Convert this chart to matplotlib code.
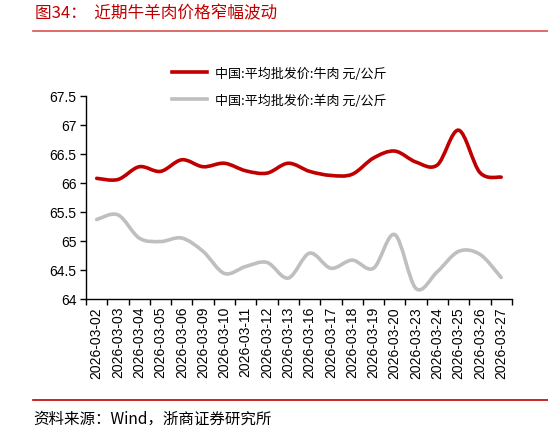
import matplotlib.pyplot as plt
from matplotlib.path import Path
from matplotlib.patches import PathPatch
from matplotlib.lines import Line2D
import numpy as np

plt.rcParams['font.family'] = ['Liberation Sans', 'Noto Sans CJK SC', 'DejaVu Sans']

# data
dates = ['2026-03-02', '2026-03-03', '2026-03-04', '2026-03-05', '2026-03-06',
         '2026-03-09', '2026-03-10', '2026-03-11', '2026-03-12', '2026-03-13',
         '2026-03-16', '2026-03-17', '2026-03-18', '2026-03-19', '2026-03-20',
         '2026-03-23', '2026-03-24', '2026-03-25', '2026-03-26', '2026-03-27']
beef = [66.08, 66.06, 66.28, 66.20, 66.40, 66.28, 66.34, 66.21, 66.17, 66.34,
        66.20, 66.13, 66.15, 66.43, 66.55, 66.36, 66.31, 66.91, 66.18, 66.10]
mutton = [65.37, 65.45, 65.05, 64.99, 65.05, 64.82, 64.44, 64.56, 64.63, 64.36,
          64.79, 64.53, 64.67, 64.53, 65.11, 64.18, 64.47, 64.82, 64.77, 64.37]
beef_label = '中国:平均批发价:牛肉 元/公斤'
mutton_label = '中国:平均批发价:羊肉 元/公斤'

RED = '#c00000'
GREY = '#bfbfbf'


def smooth_path(xs, ys):
    # excel-like smoothed line: cubic bezier segments through each point
    pts = np.column_stack([xs, ys]).astype(float)
    ext = np.vstack([pts[0], pts, pts[-1]])
    verts = [pts[0]]
    codes = [Path.MOVETO]
    for i in range(1, len(ext) - 2):
        p0, p1, p2, p3 = ext[i - 1], ext[i], ext[i + 1], ext[i + 2]
        verts += [p1 + (p2 - p0) / 6, p2 - (p3 - p1) / 6, p2]
        codes += [Path.CURVE4] * 3
    return Path(verts, codes)


fig = plt.figure(figsize=(5.48, 4.31), dpi=100)
ax = fig.add_axes([0.157, 0.304, 0.777, 0.471])

x = np.arange(len(dates))
ax.add_patch(PathPatch(smooth_path(x, beef), facecolor='none', edgecolor=RED,
                       lw=2.6, capstyle='round'))
ax.add_patch(PathPatch(smooth_path(x, mutton), facecolor='none', edgecolor=GREY,
                       lw=2.6, capstyle='round'))

ax.set_xlim(-0.5, len(dates) - 0.5)
ax.set_ylim(64, 67.5)
ax.set_yticks([64, 64.5, 65, 65.5, 66, 66.5, 67, 67.5])
ax.set_yticklabels(['64', '64.5', '65', '65.5', '66', '66.5', '67', '67.5'])
ax.set_xticks(x)
ax.set_xticklabels(dates, rotation=90)
ax.set_xticks(np.arange(len(dates) + 1) - 0.5, minor=True)
ax.tick_params(axis='x', which='major', length=0, labelsize=10, pad=5)
ax.tick_params(axis='x', which='minor', length=4, width=1, direction='out')
ax.tick_params(axis='y', length=4, width=1, direction='out', labelsize=10, pad=3)
for s in ['top', 'right']:
    ax.spines[s].set_visible(False)
for s in ['left', 'bottom']:
    ax.spines[s].set_linewidth(1)

handles = [Line2D([], [], color=RED, lw=2.6), Line2D([], [], color=GREY, lw=2.6)]
fig.legend(handles, [beef_label, mutton_label], loc='upper left',
           bbox_to_anchor=(0.292, 0.87), frameon=False, handlelength=2.7,
           handletextpad=0.6, labelspacing=1.05,
           prop={'family': 'Noto Sans CJK SC', 'size': 9.4})

fig.text(0.064, 0.967, '图34：  近期牛羊肉价格窄幅波动', color=RED, fontsize=12,
         family=['Noto Sans CJK SC'], va='center', ha='left')
fig.add_artist(Line2D([0.06, 1.0], [1 - 32 / 431] * 2, color='#d9534f', lw=1.2))
fig.add_artist(Line2D([0.06, 1.0], [1 - 401 / 431] * 2, color=RED, lw=1.2))
fig.text(0.06, 1 - 419 / 431, '资料来源：Wind，浙商证券研究所', color='black',
         fontsize=11.2, family=['Noto Sans CJK SC'], va='center', ha='left')

fig.savefig('out.png', dpi=100)
